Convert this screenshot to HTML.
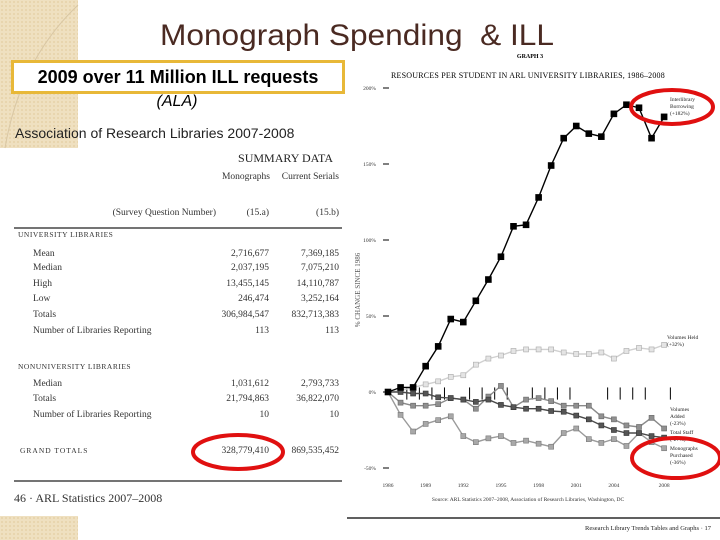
<!DOCTYPE html>
<html><head><meta charset="utf-8"><style>
html,body{margin:0;padding:0;background:#fff;}
body{width:720px;height:540px;overflow:hidden;position:relative;font-family:"Liberation Sans",sans-serif;}
svg{position:absolute;left:0;top:0;}
.serif{font-family:"Liberation Serif",serif;}
</style></head><body>
<svg id="slide" width="720" height="540" viewBox="0 0 720 540">
  <defs>
    <pattern id="dots" width="4" height="4" patternUnits="userSpaceOnUse"><rect width="4" height="4" fill="#efe0c0"/><circle cx="2" cy="2" r="1" fill="#e6d2a8"/></pattern>
  </defs>
  <rect x="0" y="0" width="78" height="148" fill="url(#dots)"/>
  <path d="M5 148 Q20 60 78 5" stroke="#d9c7a4" fill="none"/>
  <rect x="0" y="516" width="78" height="24" fill="url(#dots)"/>

  <text x="160" y="45" textLength="394" lengthAdjust="spacingAndGlyphs" font-size="30" fill="#4a2a22">Monograph Spending&#160;&#160;&amp; ILL</text>
  <rect x="12.5" y="61.5" width="331" height="31" fill="#fff" stroke="#e8b838" stroke-width="3"/>
  <text x="178" y="83" text-anchor="middle" font-size="18" font-weight="bold">2009 over 11 Million ILL requests</text>
  <text x="177" y="106" text-anchor="middle" font-size="16" font-style="italic">(ALA)</text>
  <text x="15" y="138" font-size="14" fill="#222">Association of Research Libraries 2007-2008</text>

  <g id="table" class="serif" font-family="Liberation Serif, serif" fill="#333" font-size="9.5"></g>

  <g id="chart" font-family="Liberation Serif, serif"></g>
</svg>
<script>
const NS='http://www.w3.org/2000/svg';
function mk(parent,tag,attrs,txt){const e=document.createElementNS(NS,tag);for(const k in attrs)e.setAttribute(k,attrs[k]);if(txt!==undefined)e.textContent=txt;parent.appendChild(e);return e;}

/* ---------- table ---------- */
const T=document.getElementById('table');
const tableRows=[
 ['Mean','2,716,677','7,369,185',253,1],
 ['Median','2,037,195','7,075,210',267,1],
 ['High','13,455,145','14,110,787',283,1],
 ['Low','246,474','3,252,164',298,1],
 ['Totals','306,984,547','832,713,383',314,1],
 ['Number of Libraries Reporting','113','113',330,1],
 ['Median','1,031,612','2,793,733',383,1],
 ['Totals','21,794,863','36,822,070',398,1],
 ['Number of Libraries Reporting','10','10',414,1]
];
let t;
t=mk(T,'text',{x:333,y:162,'text-anchor':'end','font-size':'12',fill:'#222'},'SUMMARY DATA');

t=mk(T,'text',{x:270,y:179,'text-anchor':'end'},'Monographs');

t=mk(T,'text',{x:339,y:179,'text-anchor':'end'},'Current Serials');

t=mk(T,'text',{x:216,y:215,'text-anchor':'end'},'(Survey Question Number)');

mk(T,'text',{x:269,y:215,'text-anchor':'end'},'(15.a)');
mk(T,'text',{x:339,y:215,'text-anchor':'end'},'(15.b)');
t=mk(T,'line',{x1:14,x2:342,y1:228,y2:228,stroke:'#222','stroke-width':'1.2'});

t=mk(T,'text',{x:18,y:237,'font-size':'7.5','letter-spacing':'0.5'},'UNIVERSITY LIBRARIES');

t=mk(T,'text',{x:18,y:369,'font-size':'7.5','letter-spacing':'0.5'},'NONUNIVERSITY LIBRARIES');

tableRows.forEach(r=>{
  const g=mk(T,'g',{});
  
  
  mk(g,'text',{x:33,y:r[3]+3},r[0]);
  mk(g,'text',{x:269,y:r[3]+3,'text-anchor':'end'},r[1]);
  mk(g,'text',{x:339,y:r[3]+3,'text-anchor':'end'},r[2]);
});
t=mk(T,'text',{x:20,y:453,'font-size':'7.5','letter-spacing':'1'},'GRAND TOTALS');

mk(T,'text',{x:269,y:453,'text-anchor':'end'},'328,779,410');
mk(T,'text',{x:339,y:453,'text-anchor':'end'},'869,535,452');
t=mk(T,'ellipse',{cx:238,cy:452,rx:45,ry:17,fill:'none',stroke:'#e01010','stroke-width':'4'});

t=mk(T,'line',{x1:14,x2:342,y1:481,y2:481,stroke:'#222','stroke-width':'1.2'});

t=mk(T,'text',{x:14,y:502,'font-size':'12'},'46 · ARL Statistics 2007–2008');

</script>
<script>
/* ---------- chart data ---------- */
const years=[1986,1987,1988,1989,1990,1991,1992,1993,1994,1995,1996,1997,1998,1999,2000,2001,2002,2003,2004,2005,2006,2007,2008];
const illBorrowing=[0,3,3,17,30,48,46,60,74,89,109,110,128,149,167,175,170,168,183,189,187,167,181];
const volumesHeld=[0,1,3,5,7,10,11,18,22,24,27,28,28,28,26,25,25,26,22,27,29,28,31];
const volumesAdded=[0,-7,-9,-9,-8,-4,-5,-11,-3,4,-10,-5,-4,-6,-9,-9,-9,-16,-18,-22,-23,-17,-24];
const totalStaff=[0,0,-1,-1,-3.5,-4,-5,-6.5,-5,-8.5,-10,-11,-11,-12.5,-13,-15.5,-18,-22,-25,-27,-27,-29,-30];
const monographs=[0,-15,-26,-21,-18.5,-16,-29,-33,-30.5,-29,-33.5,-32,-34,-36,-27,-24,-31,-33.5,-31,-35.5,-27,-33,-37];
const yTicks=[200,150,100,50,0,-50];
const yTickLabels=['200%','150%','100%','50%','0%','-50%'];
const xTickYears=[1986,1989,1992,1995,1998,2001,2004,2008];
const markYears=[1987.5,1988.5,1989.5,1990.5,1992.5,1993.5,1994.5,1995.5,1997.5,1998.5,1999.5,2000.5,2003.5,2004.5,2005.5,2006.5,2008.5];

const C=document.getElementById('chart');
function xs(yr){return 388+(yr-1986)*12.55;}
function ys(v){return 392-v*1.52;}

let e;
e=mk(C,'text',{x:530,y:58,'text-anchor':'middle','font-size':'6','font-weight':'bold'},'GRAPH 3');

e=mk(C,'text',{x:528,y:78,'text-anchor':'middle','font-size':'8','letter-spacing':'0.2'},'RESOURCES PER STUDENT IN ARL UNIVERSITY LIBRARIES, 1986–2008');


yTicks.forEach((v,i)=>{
  const tk=mk(C,'line',{x1:383,x2:389,y1:ys(v),y2:ys(v),stroke:'#000','stroke-width':'1'});
  
  
  const lb=mk(C,'text',{x:376,y:ys(v)+2,'text-anchor':'end','font-size':'5.5',fill:'#333'},yTickLabels[i]);
  
  
});
e=mk(C,'text',{x:0,y:0,'font-size':'7',fill:'#555','text-anchor':'middle',transform:'translate(360,290) rotate(-90)'},'% CHANGE SINCE 1986');

xTickYears.forEach(yr=>{
  const lb=mk(C,'text',{x:xs(yr),y:487,'text-anchor':'middle','font-size':'5.5',fill:'#333'},String(yr));
  
  
});
markYears.forEach(yr=>{
  const m=mk(C,'line',{x1:xs(yr),x2:xs(yr),y1:ys(3),y2:ys(-5),stroke:'#000','stroke-width':'1'});
  
  
});

const series=[
 {name:'volumes-held',vals:volumesHeld,stroke:'#d0d0d0',fill:'#e4e4e4',edge:'#aaa',sz:5},
 {name:'monographs-purchased',vals:monographs,stroke:'#9a9a9a',fill:'#a8a8a8',edge:'#777',sz:5},
 {name:'volumes-added',vals:volumesAdded,stroke:'#8a8a8a',fill:'#909090',edge:'#666',sz:5},
 {name:'total-staff',vals:totalStaff,stroke:'#4a4a4a',fill:'#555',edge:'#333',sz:5},
 {name:'interlibrary-borrowing',vals:illBorrowing,stroke:'#000',fill:'#000',edge:'#000',sz:6}
];
series.forEach(s=>{
  const pts=s.vals.map((v,i)=>xs(years[i]).toFixed(1)+','+ys(v).toFixed(1)).join(' ');
  const pl=mk(C,'polyline',{points:pts,fill:'none',stroke:s.stroke,'stroke-width':'1.4'});
  
  
  s.vals.forEach((v,i)=>{
    const r=mk(C,'rect',{x:xs(years[i])-s.sz/2,y:ys(v)-s.sz/2,width:s.sz,height:s.sz,fill:s.fill,stroke:s.edge,'stroke-width':'0.6'});
    
    
  });
});

const labels=[
 ['interlibrary-borrowing-label',670,101,['Interlibrary','Borrowing','(+182%)']],
 ['volumes-held-label',667,339,['Volumes Held','(+32%)']],
 ['volumes-added-label',670,411,['Volumes','Added','(-23%)']],
 ['total-staff-label',670,434,['Total Staff','(-27%)']],
 ['monographs-purchased-label',670,450,['Monographs','Purchased','(-36%)']]
];
labels.forEach(l=>{
  const tx=mk(C,'text',{x:l[1],y:l[2],'font-size':'5.5',fill:'#222'});
  
  
  l[3].forEach((s,i)=>mk(tx,'tspan',{x:l[1],dy:i?7:0},s));
});
e=mk(C,'ellipse',{cx:672,cy:107,rx:41,ry:17,fill:'none',stroke:'#e01010','stroke-width':'4'});

e=mk(C,'ellipse',{cx:676,cy:458,rx:44,ry:20,fill:'none',stroke:'#e01010','stroke-width':'4'});


e=mk(C,'text',{x:528,y:501,'text-anchor':'middle','font-size':'5.5',fill:'#333'},'Source: ARL Statistics 2007–2008, Association of Research Libraries, Washington, DC');

e=mk(C,'line',{x1:347,x2:720,y1:518,y2:518,stroke:'#000','stroke-width':'1.2'});

e=mk(C,'text',{x:711,y:530,'text-anchor':'end','font-size':'6.5',fill:'#222'},'Research Library Trends Tables and Graphs · 17');

</script>
</body></html>
